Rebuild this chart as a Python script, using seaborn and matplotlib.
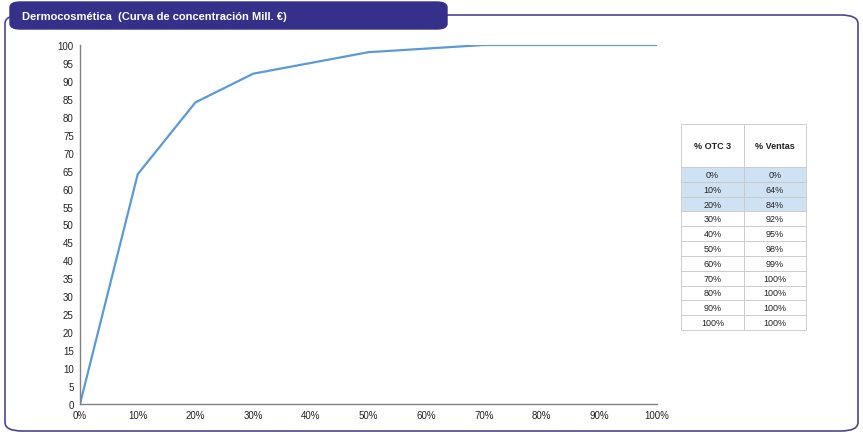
import matplotlib
matplotlib.use("Agg")
import matplotlib.pyplot as plt
import seaborn as sns
import pandas as pd
from matplotlib.patches import FancyBboxPatch, Rectangle

otc = [0, 10, 20, 30, 40, 50, 60, 70, 80, 90, 100]
ventas = [0, 64, 84, 92, 95, 98, 99, 100, 100, 100, 100]
title = "Dermocosmética  (Curva de concentración Mill. €)"
col_headers = ["% OTC 3", "% Ventas"]

sns.set_style("white")
plt.rcParams['font.family'] = ['Liberation Sans', 'DejaVu Sans']

W, H = 863, 435
fig = plt.figure(figsize=(W / 100, H / 100), dpi=100)

def fx(x):
    return x / W

def fy(y):
    return 1 - y / H

# outer frame
frame = FancyBboxPatch((fx(5), fy(432)), fx(853), (432 - 16) / H,
                       boxstyle="round,pad=0,rounding_size=0.02",
                       transform=fig.transFigure, fill=False,
                       edgecolor="#4a4595", linewidth=1.2, zorder=0)
fig.patches.append(frame)

# banner
banner = FancyBboxPatch((fx(10), fy(30)), fx(437), 27 / H,
                        boxstyle="round,pad=0,rounding_size=0.012",
                        transform=fig.transFigure, facecolor="#35318a",
                        edgecolor="#35318a", zorder=2)
fig.patches.append(banner)
fig.text(fx(22), fy(17), title, color="white", fontsize=8, fontweight="bold",
         va="center", ha="left", zorder=3)

ax = fig.add_axes([fx(80), fy(405), fx(577), (405 - 46) / H])
df = pd.DataFrame({"otc": otc, "ventas": ventas})
sns.lineplot(data=df, x="otc", y="ventas", ax=ax, color="#5b9bd5", linewidth=1.6)
ax.set_xlim(0, 100)
ax.set_ylim(0, 100)
ax.set_xticks(otc)
ax.set_xticklabels([f"{v}%" for v in otc])
ax.set_yticks(range(0, 101, 5))
ax.set_xlabel("")
ax.set_ylabel("")
for s in ["top", "right"]:
    ax.spines[s].set_visible(False)
for s in ["left", "bottom"]:
    ax.spines[s].set_color("#808080")
    ax.spines[s].set_linewidth(1.0)
ax.tick_params(axis="both", labelsize=7, colors="#333333", length=3,
               direction="inout", width=0.8, pad=3)
ax.tick_params(axis="both", colors="#808080", labelcolor="#222222")
ax.patch.set_alpha(0)

# table
tx0, tx1, tx2 = 681, 744, 806
ty0, thead = 125, 168
rowh = (331 - thead) / len(otc)
for i in range(len(otc)):
    y = thead + i * rowh
    face = "#cfe2f3" if i < 3 else "white"
    for (a, b) in [(tx0, tx1), (tx1, tx2)]:
        fig.patches.append(Rectangle((fx(a), fy(y + rowh)), fx(b - a), rowh / H,
                                     transform=fig.transFigure, facecolor=face,
                                     edgecolor="#c8c8c8", linewidth=0.6))
    fig.text(fx((tx0 + tx1) / 2), fy(y + rowh / 2), f"{otc[i]}%", fontsize=6.5,
             ha="center", va="center", color="#222222")
    fig.text(fx((tx1 + tx2) / 2), fy(y + rowh / 2), f"{ventas[i]}%", fontsize=6.5,
             ha="center", va="center", color="#222222")
for (a, b), lab in zip([(tx0, tx1), (tx1, tx2)], col_headers):
    fig.patches.append(Rectangle((fx(a), fy(thead)), fx(b - a), (thead - ty0) / H,
                                 transform=fig.transFigure, facecolor="white",
                                 edgecolor="#c8c8c8", linewidth=0.6))
    fig.text(fx((a + b) / 2), fy((ty0 + thead) / 2), lab, fontsize=6.5,
             fontweight="bold", ha="center", va="center", color="#222222")

fig.savefig("out.png", dpi=100)
